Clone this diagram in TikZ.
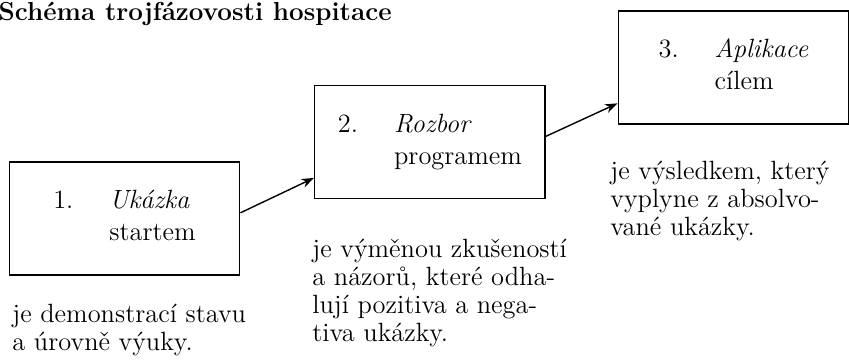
\documentclass[tikz,border=0pt]{standalone}
\usepackage{fontspec}
\usetikzlibrary{arrows.meta}

\tikzset{
	faze/.style={draw=black, line width=0.7pt, minimum width=4.05cm, minimum height=1.98cm, inner sep=0pt, font=\fontsize{13.2}{16}\selectfont},
	popis/.style={anchor=base west, align=left, inner sep=0pt, font=\fontsize{13.2}{14}\selectfont},
	sipka/.style={line width=0.7pt, -{Stealth[length=2.2mm, width=1.6mm]}}
}
\newcommand{\fazetext}[3]{\begin{tabular}{@{}l@{\hspace{18pt}}l@{}}#1 & \textit{#2}\\ & #3\end{tabular}}

\begin{document}
		\begin{tikzpicture}
			\useasboundingbox (0, 0) rectangle (14.92, 6.344);
			\node [anchor=base west, inner sep=0pt, font=\fontsize{13}{15}\selectfont\bfseries] (nadpis) at (-0.03, 5.99) {Schéma trojfázovosti hospitace};
			\node [faze] (ukazka) at (2.188, 2.504) {\fazetext{1.}{Ukázka}{startem}};
			\node [faze] (rozbor) at (7.556, 3.848) {\fazetext{2.}{Rozbor}{programem}};
			\node [faze] (aplikace) at (12.890, 5.158) {\fazetext{3.}{Aplikace}{cílem}};
			\draw [sipka] ([yshift=1mm]ukazka.east) -- ([yshift=-6.3mm]rozbor.west);
			\draw [sipka] ([yshift=1mm]rozbor.east) -- ([yshift=-6.3mm]aplikace.west);
			\node [popis] (popis1) at (0.211, 0.176) {je demonstrací stavu\\a úrovně výuky.};
			\node [popis] (popis2) at (5.483, 0.334) {je výměnou zkušeností\\a názorů, které odha-\\lují pozitiva a nega-\\tiva ukázky.};
			\node [popis] (popis3) at (10.72, 2.197) {je výsledkem, který\\vyplyne z absolvo-\\vané ukázky.};
		\end{tikzpicture}
\end{document}
